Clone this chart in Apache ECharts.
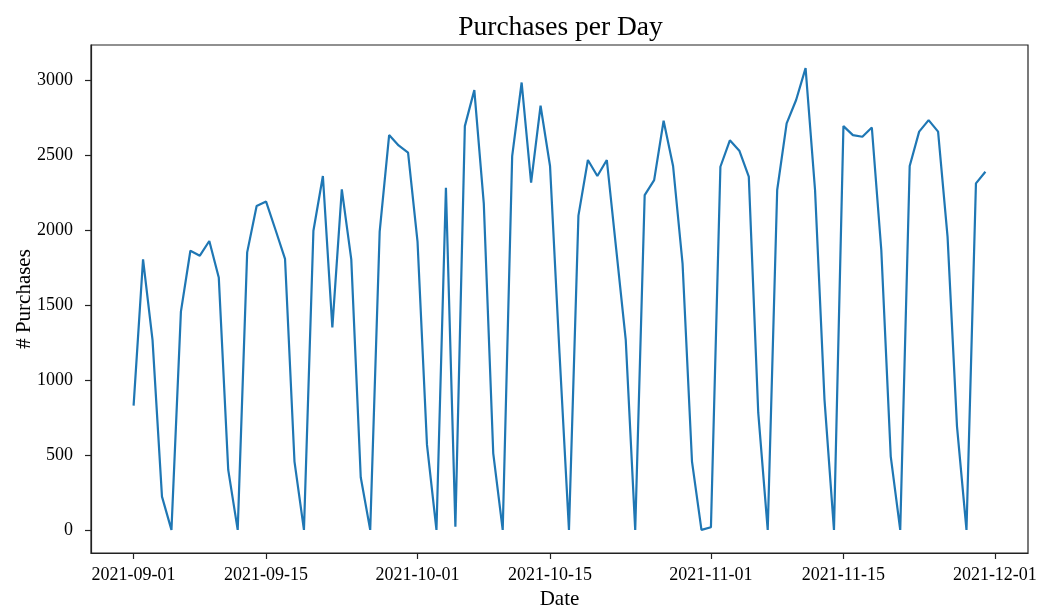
<!DOCTYPE html>
<html>
<head>
<meta charset="utf-8">
<title>Purchases per Day</title>
<script src="https://cdn.jsdelivr.net/npm/echarts@6/dist/echarts.min.js"></script>
<style>
  html, body { margin: 0; padding: 0; background: #ffffff; }
  #chart { width: 1041px; height: 611px; }
</style>
</head>
<body>
<div id="chart"></div>
<script>
// Daily purchase counts, 2021-09-01 through 2021-11-30
const startDate = '2021-09-01';
const purchases = [
  829, 1805, 1267, 222, 0, 1456, 1862, 1829, 1927, 1684,
  400, 0, 1851, 2160, 2190, 2000, 1808, 456, 0, 1995,
  2360, 1351, 2271, 1804, 351, 0, 1989, 2633, 2564, 2516,
  1922, 567, 0, 2282, 22, 2693, 2933, 2178, 511, 0,
  2493, 2984, 2316, 2829, 2427, 1180, 0, 2096, 2467, 2360,
  2467, 1867, 1267, 0, 2233, 2333, 2729, 2427, 1778, 456,
  0, 18, 2422, 2598, 2529, 2356, 780, 0, 2267, 2711,
  2867, 3080, 2267, 867, 0, 2693, 2633, 2622, 2684, 1867,
  489, 0, 2427, 2656, 2733, 2656, 1956, 689, 0, 2311,
  2389
];
const dateTicks = ['2021-09-01', '2021-09-15', '2021-10-01', '2021-10-15', '2021-11-01', '2021-11-15', '2021-12-01'];
const countTicks = [0, 500, 1000, 1500, 2000, 2500, 3000];

const DAY = 86400000;
const toMs = s => { const p = s.split('-').map(Number); return Date.UTC(p[0], p[1] - 1, p[2]); };
const pad = n => String(n).padStart(2, '0');
const fmt = ms => { const d = new Date(ms); return d.getUTCFullYear() + '-' + pad(d.getUTCMonth() + 1) + '-' + pad(d.getUTCDate()); };

const t0 = toMs(startDate);
const seriesData = purchases.map((v, i) => [t0 + i * DAY, v]);

// 5% padding on each side of the data, as in a default matplotlib axes
const tFirst = seriesData[0][0], tLast = seriesData[seriesData.length - 1][0];
const tPad = (tLast - tFirst) * 0.05;
const vMax = Math.max(...purchases), vMin = Math.min(...purchases);
const vPad = (vMax - vMin) * 0.05;

const GRID = { left: 91, right: 13, top: 45, bottom: 58 };
const plotCenterX = GRID.left + (1041 - GRID.left - GRID.right) / 2;

const FONT = "'Liberation Serif', 'DejaVu Serif', serif";
const chart = echarts.init(document.getElementById('chart'), null, { renderer: 'canvas' });

chart.setOption({
  backgroundColor: '#ffffff',
  animation: false,
  title: {
    text: 'Purchases per Day',
    left: plotCenterX - 4,
    textAlign: 'center',
    top: 9,
    textStyle: { fontFamily: FONT, fontSize: 27.5, fontWeight: 'normal', color: '#000' }
  },
  grid: Object.assign({
    outerBoundsMode: 'none',
    containLabel: false,
    show: true, borderColor: '#222', borderWidth: 1.2, backgroundColor: 'transparent'
  }, GRID),
  xAxis: {
    type: 'value',
    min: tFirst - tPad,
    max: tLast + tPad,
    name: 'Date',
    nameLocation: 'middle',
    nameGap: 36,
    nameMoveOverlap: false,
    nameTextStyle: { fontFamily: FONT, fontSize: 21, color: '#000' },
    axisLine: { show: true, onZero: false, lineStyle: { color: '#222', width: 1.2 } },
    axisTick: { show: true, length: 6, lineStyle: { color: '#222', width: 1.2 }, customValues: dateTicks.map(toMs) },
    axisLabel: {
      customValues: dateTicks.map(toMs),
      formatter: v => fmt(v),
      fontFamily: FONT, fontSize: 18, color: '#000', margin: 13
    },
    splitLine: { show: false }
  },
  yAxis: {
    type: 'value',
    min: vMin - vPad,
    max: vMax + vPad,
    name: '# Purchases',
    nameLocation: 'middle',
    nameGap: 56,
    nameMoveOverlap: false,
    nameTextStyle: { fontFamily: FONT, fontSize: 21, color: '#000' },
    axisLine: { show: true, onZero: false, lineStyle: { color: '#222', width: 1.2 } },
    axisTick: { show: true, length: 6, lineStyle: { color: '#222', width: 1.2 }, customValues: countTicks },
    axisLabel: {
      customValues: countTicks,
      formatter: v => String(v),
      fontFamily: FONT, fontSize: 18, color: '#000', margin: 18
    },
    splitLine: { show: false }
  },
  series: [{
    type: 'line',
    data: seriesData,
    showSymbol: false,
    lineStyle: { color: '#1f77b4', width: 2.2 },
    itemStyle: { color: '#1f77b4' }
  }]
});
</script>
</body>
</html>
